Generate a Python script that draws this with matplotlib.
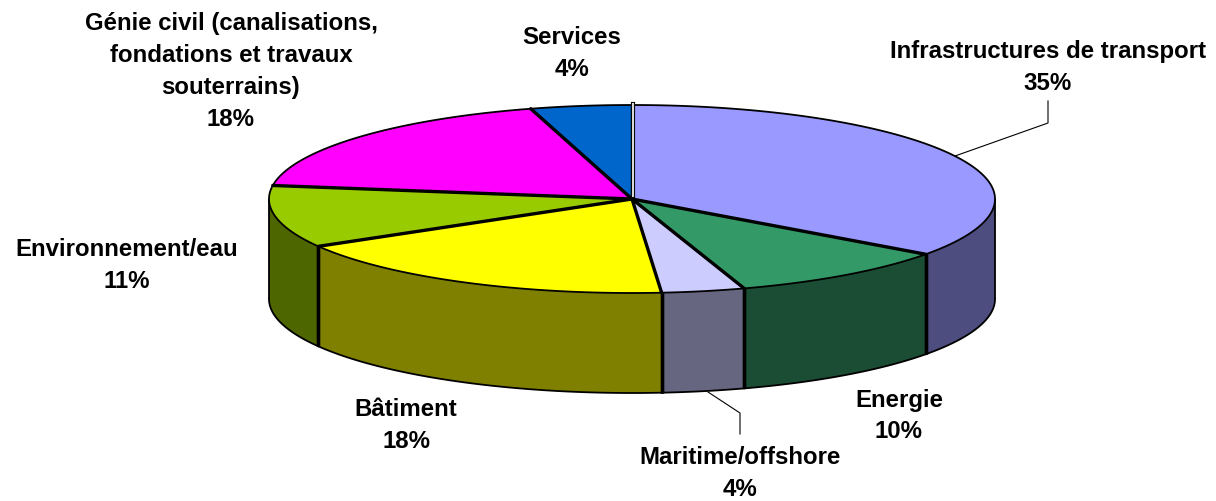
import numpy as np
import matplotlib
matplotlib.use("Agg")
import matplotlib.pyplot as plt
from matplotlib.patches import Polygon

# parts of the pie, clockwise from the top
categories = ["Infrastructures de transport", "Energie", "Maritime/offshore", "Bâtiment",
              "Environnement/eau", "Génie civil (canalisations,\nfondations et travaux\nsouterrains)", "Services"]
shares = [35, 10, 3.7, 17.9, 10.7, 18.2, 4.5]
labels_pct = ["35%", "10%", "4%", "18%", "11%", "18%", "4%"]
top_colors = ["#9999FF", "#339966", "#CCCCFF", "#FFFF00", "#99CC00", "#FF00FF", "#0066CC"]
side_colors = ["#4D4D80", "#1A4D33", "#666680", "#808000", "#4D6600", "#800080", "#003366"]
label_pos = [(1048, 67), (899, 416), (740, 473), (406, 425), (127, 266), (231, 71), (572, 53)]

cx, cy, rx, ry, depth = 632, 199, 363, 94, 100

fig = plt.figure(figsize=(12.16, 5.01), dpi=100)
ax = fig.add_axes([0, 0, 1, 1])
ax.set_xlim(0, 1216)
ax.set_ylim(501, 0)
ax.axis("off")


def arc(a0, a1):
    t = np.radians(np.linspace(a0, a1, 120))
    return np.column_stack([cx + rx * np.sin(t), cy - ry * np.cos(t)])


edges = np.cumsum([0] + shares) * 3.6

# side wall first: only the front half of the ellipse shows
for i in range(len(shares)):
    a0 = max(edges[i], 90)
    a1 = min(edges[i + 1], 270)
    if a1 <= a0:
        continue
    top = arc(a0, a1)
    low = top[::-1] + [0, depth]
    ax.add_patch(Polygon(np.vstack([top, low]), closed=True, fc=side_colors[i], ec="none", zorder=1))
    ax.plot(low[:, 0], low[:, 1], color="black", lw=1.3, zorder=2)
    # the vertical seams between the slices
    for a in (a0, a1):
        p = arc(a, a)[0]
        wide = 90 < a < 270
        ax.plot([p[0], p[0]], [p[1], p[1] + depth], color="black", lw=2.4 if wide else 1.3,
                zorder=2, solid_capstyle="butt")

# top faces
for i in range(len(shares)):
    pts = arc(edges[i], edges[i + 1])
    ax.add_patch(Polygon(np.vstack([[cx, cy], pts]), closed=True, fc=top_colors[i], ec="none", zorder=3))
    ax.plot(pts[:, 0], pts[:, 1], color="black", lw=1.3, zorder=4)
for a in edges[:-1]:
    p = arc(a, a)[0]
    ax.plot([cx, p[0]], [cy, p[1]], color="black", lw=2.4, zorder=5, solid_capstyle="round")

# small gap where the first slice starts
ax.plot([cx + 1, cx + 1], [cy - ry - 1, cy - 3], color="black", lw=3.0, zorder=6)
ax.plot([cx + 1, cx + 1], [cy - ry - 1, cy - 3], color="#D8D8D8", lw=1.5, zorder=7)

# leader lines
ax.plot([1048, 1048, 955], [101, 123, 156], color="black", lw=0.8, zorder=2)
ax.plot([708, 740, 740], [392, 413, 434], color="black", lw=0.8, zorder=2)

for name, pct, (x, y) in zip(categories, labels_pct, label_pos):
    ax.text(x, y, name + "\n" + pct, ha="center", va="center", family="Liberation Sans",
            fontweight="bold", fontsize=17.3, linespacing=1.5, color="black", zorder=8)

fig.savefig("out.png", dpi=100)
